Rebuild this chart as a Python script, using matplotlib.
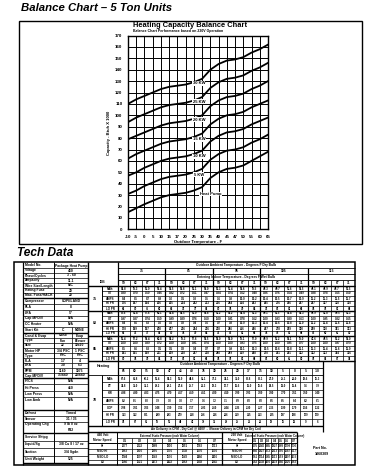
import matplotlib
matplotlib.use("Agg")
import matplotlib.pyplot as plt

plt.rcParams['font.family'] = ['Liberation Sans', 'DejaVu Sans']

# ---- balance chart data ----
outdoor_temps = ["-10", "-5", "0", "5", "10", "15", "17", "20", "25", "30",
                 "35", "40", "45", "47", "50", "55", "60", "65"]
heat_pump = [15, 18.5, 22, 25, 28, 30, 31, 32, 34, 37, 45, 50, 53, 54, 56, 60, 64, 68]
kw_5 = [31, 34, 38, 41, 44, 46, 47, 48, 50, 53, 61, 66, 69, 70, 72, 76, 79, 83]
kw_10 = [47, 50, 54, 57, 60, 62, 63, 64, 66, 69, 77, 82, 85, 86, 88, 92, 95, 98]
kw_15 = [62, 66, 69, 72, 75, 77, 78, 79, 81, 84, 92, 97, 100, 101, 103, 107, 110, 113]
kw_20 = [79, 82, 85, 88, 91, 93, 94, 95, 97, 100, 108, 113, 116, 117, 119, 123, 126, 130]
kw_25 = [94, 98, 101, 104, 107, 109, 110, 111, 113, 116, 124, 129, 132, 133, 135, 139, 142, 146]
kw_30 = [110, 114, 117, 120, 123, 125, 126, 127, 129, 132, 140, 145, 148, 149, 151, 155, 158, 162]
curve_names = ["Heat Pump", "5 KW", "10 KW", "15 KW", "20 KW", "25 KW", "30 KW"]

# ---- tech data ----
spec_rows = [
    ("Model No.", "Package Heat Pump", None),
    ("Voltage", "460", None),
    ("Phase/Cycles", "3 - 60", None),
    ("Ampacity", "11.1", None),
    ("Wire Size/Length", "N/C", None),
    ("Rating Fuse", "20", None),
    ("Max. Fuse/HACR", "20", None),
    ("Compressor", "COPELAND", None),
    ("RLA", "8", None),
    ("LRA", "57", None),
    ("Cap MFD/V", "N/A", None),
    ("CC Heater", "N/A", None),
    ("Start Kit", "C", "NONE"),
    ("Cond & Evap", "Cond", "Evap"),
    ("Type", "Fan", "Blower"),
    ("Size", "22", "10x10"),
    ("Motor HP", "3/4 PSC", "1 PSC"),
    ("Type", "PSC", "PSC"),
    ("FLA", "1.7", "4"),
    ("LRA", "3.0", "6.3"),
    ("RPM", "1140", "1075"),
    ("Cap MFD/V", "15/440", "20/440"),
    ("FTCS", "N/A", None),
    ("Hi Press", "410", None),
    ("Low Press", "N/A", None),
    ("Low Amb", "N/A", None),
    ("", "", None),
    ("Defrost", "Timed", None),
    ("Sensor", "31 / 35", None),
    ("Operating Chg", "9 lb 0 oz", None),
    ("", "R22", None),
    ("Service Shipg", "", None),
    ("Liquid/Sg", "3/8 Cu 8 / 17 oz", None),
    ("Suction", "3/4 Sgdn", None),
    ("Unit Weight", "525", None),
]
spec_sections = [7, 6, 9, 5, 4, 4]

cool_outdoor = ["75", "85", "95", "105", "115"]
cool_wb = ["59", "63", "67", "71"]
cool_idb = ["75", "80", "85"]
cool_row_names = ["MBh", "S/T", "AMPS", "HI PR", "LO PR"]
cool_75 = [
    "54.8 55.3 56.9 59.4 52.5 53.8 56.1 58.0 50.3 51.4 53.6 55.5 48.3 49.7 51.6 53.5 46.1 46.9 48.7 50.5",
    "0.80 0.70 0.59 0.46 0.82 0.72 0.61 0.47 0.84 0.74 0.62 0.48 0.86 0.76 0.64 0.49 0.88 0.78 0.65 0.50",
    "8.4 8.5 8.7 8.9 9.0 9.1 9.3 9.5 9.6 9.8 10.0 10.2 10.4 10.5 10.7 10.9 11.2 11.3 11.5 11.7",
    "176 187 194 206 205 214 222 233 236 244 254 263 265 276 286 297 297 307 318 330",
    "66 70 75 80 68 72 77 82 70 74 79 84 72 76 81 86 74 78 83 88",
]
cool_80 = [
    "55.6 56.4 57.6 60.1 53.4 54.5 56.9 58.8 51.2 52.2 54.4 56.3 49.1 50.5 52.4 54.3 46.9 47.8 49.5 51.3",
    "0.97 0.87 0.74 0.59 0.99 0.89 0.76 0.60 1.00 0.91 0.78 0.62 1.00 0.93 0.80 0.63 1.00 0.95 0.82 0.65",
    "8.4 8.6 8.8 9.0 9.0 9.2 9.4 9.6 9.7 9.8 10.0 10.3 10.4 10.6 10.8 11.0 11.2 11.4 11.6 11.8",
    "178 189 197 208 207 216 224 236 238 246 256 266 267 278 289 300 299 310 321 333",
    "68 72 77 82 70 74 79 84 72 76 81 86 74 78 83 88 76 80 85 90",
]
cool_85 = [
    "56.4 57.2 58.4 60.8 54.2 55.3 57.6 59.5 52.0 53.0 55.1 57.0 49.9 51.2 53.1 55.0 47.6 48.5 50.2 52.0",
    "1.00 1.00 0.89 0.72 1.00 1.00 0.91 0.74 1.00 1.00 0.93 0.75 1.00 1.00 0.95 0.77 1.00 1.00 0.97 0.79",
    "8.5 8.6 8.8 9.1 9.1 9.2 9.4 9.7 9.7 9.9 10.1 10.3 10.5 10.6 10.8 11.1 11.3 11.4 11.6 11.9",
    "181 191 199 211 209 218 227 238 240 249 259 268 270 281 291 302 302 313 324 336",
    "70 74 79 84 72 76 81 86 74 78 83 88 76 80 85 90 78 82 87 92",
]

heat_temps = ["65", "60", "55", "50", "47", "45", "40", "35", "30", "25",
              "20", "17", "15", "10", "5", "0", "-5", "-10"]
heat_row_names = ["MBh", "DT", "KW", "AMPS", "COP", "HI PR", "LO PR"]
heat_70 = [
    "67.6 63.8 60.2 56.4 54.3 52.9 49.6 45.1 37.2 34.1 32.0 30.8 30.1 27.9 25.1 22.0 18.6 15.3",
    "34.8 33.0 31.1 29.2 28.1 27.4 25.7 23.3 19.3 17.7 16.6 16.0 15.6 14.5 13.0 11.4 9.6 7.9",
    "4.98 4.90 4.83 4.75 4.70 4.67 4.59 4.51 4.20 4.10 3.99 3.93 3.89 3.80 3.70 3.61 3.50 3.40",
    "8.2 8.1 8.0 7.9 7.8 7.8 7.7 7.6 7.2 7.1 6.9 6.8 6.8 6.6 6.5 6.4 6.2 6.1",
    "3.98 3.81 3.65 3.48 3.39 3.32 3.17 2.93 2.60 2.44 2.35 2.30 2.27 2.15 1.99 1.79 1.56 1.32",
    "323 312 301 289 283 279 268 256 236 226 219 215 213 205 197 188 179 170",
    "74 67 61 55 51 49 43 38 33 29 25 23 22 19 15 12 9 6",
]

esp_values = ["0.1", "0.2", "0.3", "0.4", "0.5", "0.6", "0.7"]
motor_speeds = ["HI", "MED HI", "MED LO", "LO"]
cfm_460 = [
    [2077, 2022, 1968, 1910, 1851, 1782, 1713],
    [1962, 1910, 1855, 1796, 1738, 1670, 1600],
    [1744, 1697, 1648, 1596, 1542, 1480, 1416],
    [1566, 1521, 1473, 1422, 1369, 1308, 1245],
]
cfm_230 = [
    [2095, 2040, 1985, 1927, 1868, 1799, 1730],
    [1980, 1927, 1872, 1813, 1755, 1687, 1617],
    [1761, 1714, 1665, 1613, 1559, 1497, 1433],
    [1583, 1538, 1490, 1439, 1386, 1325, 1262],
]

W, H = 375, 475
fig = plt.figure(figsize=(W / 100, H / 100), dpi=100)
fig.patch.set_facecolor("white")

# page overlay in pixel coordinates
pg = fig.add_axes([0, 0, 1, 1])
pg.set_xlim(0, W)
pg.set_ylim(H, 0)
pg.axis("off")

def hline(y, x0, x1, lw=0.7):
    pg.plot([x0, x1], [y, y], color="black", lw=lw, solid_capstyle="butt")

def vline(x, y0, y1, lw=0.7):
    pg.plot([x, x], [y0, y1], color="black", lw=lw, solid_capstyle="butt")

def cell(x, y, s, size=2.3, ha="center", weight="bold"):
    pg.text(x, y, s, fontsize=size, ha=ha, va="center", fontweight=weight)

pg.text(21, 8, "Balance Chart \u2013 5 Ton Units", fontsize=8.2, fontweight="bold",
        fontstyle="italic", ha="left", va="center")
pg.text(17, 253, "Tech Data", fontsize=8.6, fontweight="bold",
        fontstyle="italic", ha="left", va="center")

# chart frame
pg.add_patch(plt.Rectangle((19, 21), 343, 223, fill=False, lw=1.0, ec="black"))

# ---- chart ----
ax = fig.add_axes([128 / W, 1 - 229.3 / H, 140 / W, 193.8 / H])
xs = list(range(len(outdoor_temps)))
curves = [heat_pump, kw_5, kw_10, kw_15, kw_20, kw_25, kw_30]
for vals in curves:
    ax.plot(xs, vals, color="black", lw=1.3, zorder=3)
label_pos = [(10.0, 31), (8.6, 48), (8.6, 64), (8.6, 79), (8.6, 96), (8.6, 112), (8.6, 128)]
for name, (lx, ly) in zip(curve_names, label_pos):
    ax.text(lx, ly, name, fontsize=3, fontweight="bold", ha="center", va="center", zorder=4,
            bbox=dict(fc="white", ec="none", pad=0.3))
ax.set_xlim(0, len(outdoor_temps) - 1)
ax.set_ylim(0, 170)
ax.set_xticks(xs)
ax.set_xticklabels(outdoor_temps)
ax.set_yticks(range(0, 171, 10))
ax.tick_params(length=0, labelsize=3.2, pad=4)
for t in ax.get_xticklabels() + ax.get_yticklabels():
    t.set_fontweight("bold")
ax.grid(True, color="black", lw=0.7)
for sp in ax.spines.values():
    sp.set_linewidth(1.0)
ax.set_xlabel("Outdoor Temperature - F", fontsize=3, fontweight="bold", labelpad=1)
ax.set_ylabel("Capacity - Btuh X 1000", fontsize=3, fontweight="bold", labelpad=3)
pg.text(133, 25.5, "Heating Capacity Balance Chart", fontsize=5.4, fontweight="bold",
        ha="left", va="center")
pg.text(133, 30.8, "Balance Chart Performance based on 230V Operation", fontsize=2.5,
        fontweight="bold", ha="left", va="center")

# ---- tech data table ----
top, bot = 262, 465
pg.add_patch(plt.Rectangle((14, top), 341, bot - top, fill=False, lw=1.1, ec="black"))
vline(23, top, bot, lw=0.9)

# spec block
xl, xm, xs2, xr = 23, 54, 72, 88
vline(xr, top, bot, lw=1.0)
vline(xm, top, bot - 2)
sec_bounds = [(263, 298), (298, 333), (333, 378), (378, 410), (410, 433), (433, 463)]
row_i = 0
for (y0, y1), n in zip(sec_bounds, spec_sections):
    h = (y1 - y0) / n
    hline(y1, xl, xr, lw=1.0)
    for k in range(n):
        label, v1, v2 = spec_rows[row_i]
        ya, yb = y0 + k * h, y0 + (k + 1) * h
        if k > 0 and label:
            hline(ya, xl, xr, lw=0.5)
        yc = (ya + yb) / 2
        cell(xl + 2, yc, label, size=2.4, ha="left")
        if v2 is None:
            cell((xm + xr) / 2, yc, v1, size=2.4)
        else:
            vline(xs2, ya, yb, lw=0.5)
            cell((xm + xs2) / 2, yc, v1, size=2.4)
            cell((xs2 + xr) / 2, yc, v2, size=2.4)
        row_i += 1

# cooling block
c0, c1, d0, d1 = 88, 102, 118, 355
ncol = len(cool_outdoor) * len(cool_wb)
cw = (d1 - d0) / ncol
hdr = [262, 268, 274, 280, 286]
for y in hdr[1:]:
    hline(y, d0, d1, lw=0.6)
vline(d0, top, 361, lw=0.9)
cell((d0 + d1) / 2, 265, "Outdoor Ambient Temperature - Degrees F Dry Bulb", size=2.3)
cell((d0 + d1) / 2, 277, "Entering Indoor Temperature - Degrees F Wet Bulb", size=2.3)
for i, t in enumerate(cool_outdoor):
    xa = d0 + i * 4 * cw
    if i > 0:
        vline(xa, 268, 361, lw=0.9)
    cell(xa + 2 * cw, 271, t, size=2.4)
    for j, wb in enumerate(cool_wb):
        cell(xa + (j + 0.5) * cw, 283, wb, size=2.3)
for j in range(ncol):
    if j % 4:
        vline(d0 + j * cw, 280, 361, lw=0.5)
cell((c0 + d0) / 2, 282, "IDB", size=2.3)
vline(c1, 286, 361, lw=0.7)
groups = [cool_75, cool_80, cool_85]
g_top = 286
rh = 5
for gi, (idb, grp) in enumerate(zip(cool_idb, groups)):
    y0 = g_top + gi * 25
    hline(y0, c0, d1, lw=1.0)
    cell((c0 + c1) / 2, y0 + 12.5, idb, size=2.6)
    for r, (nm, line) in enumerate(zip(cool_row_names, grp)):
        ya = y0 + r * rh
        if r:
            hline(ya, c1, d1, lw=0.5)
        cell((c1 + d0) / 2, ya + rh / 2, nm, size=2.1)
        for j, v in enumerate(line.split()):
            cell(d0 + (j + 0.5) * cw, ya + rh / 2, v, size=2.1)
hline(361, c0, d1, lw=1.0)

# heating block
hd1 = 323
hcw = (hd1 - d0) / len(heat_temps)
vline(hd1, 361, 432, lw=0.9)
vline(d0, 361, 426, lw=0.9)
hline(368, d0, hd1, lw=0.6)
hline(375, c0, hd1, lw=0.6)
cell((c0 + d0) / 2, 366, "Heating", size=2.6)
cell((d0 + hd1) / 2, 364.5, "Outdoor Ambient Temperature - Degrees F Dry Bulb", size=2.3)
for j, t in enumerate(heat_temps):
    if j:
        vline(d0 + j * hcw, 368, 426, lw=0.5)
    cell(d0 + (j + 0.5) * hcw, 371.5, t, size=2.3)
vline(c1, 375, 426, lw=0.7)
cell((c0 + c1) / 2, 400, "70", size=2.6)
hrh = (426 - 375) / len(heat_row_names)
for r, (nm, line) in enumerate(zip(heat_row_names, heat_70)):
    ya = 375 + r * hrh
    if r:
        hline(ya, c1, hd1, lw=0.5)
    cell((c1 + d0) / 2, ya + hrh / 2, nm, size=2.1)
    for j, v in enumerate(line.split()):
        cell(d0 + (j + 0.5) * hcw, ya + hrh / 2, v, size=2.0)
hline(426, c0, hd1, lw=1.0)
cell((c0 + hd1) / 2, 429, "Air Delivery in CFM - Dry Coil @ 460V  -  Blower Delivery in CFM for Dry Coil",
     size=2.2)
hline(432, c0, 297, lw=1.0)

# air delivery tables
def air_table(xa, xb, xe, volt, data):
    vline(xb, 432, bot, lw=0.7)
    vline(xe, 432, bot, lw=0.9)
    cell((xa + xb) / 2, 435.5, volt, size=2.2)
    cell((xa + xb) / 2, 440.5, "Motor Speed", size=2.2)
    cell((xb + xe) / 2, 435.5, "External Static Pressure (inch Water Column)", size=2.0)
    hline(438, xb, xe, lw=0.5)
    hline(443, xa, xe, lw=0.7)
    ccw = (xe - xb) / len(esp_values)
    for j, e in enumerate(esp_values):
        if j:
            vline(xb + j * ccw, 438, bot, lw=0.5)
        cell(xb + (j + 0.5) * ccw, 440.5, e, size=2.1)
    rrh = (bot - 443) / len(motor_speeds)
    for r, sp in enumerate(motor_speeds):
        ya = 443 + r * rrh
        if r:
            hline(ya, xa, xe, lw=0.5)
        cell((xa + xb) / 2, ya + rrh / 2, sp, size=2.1)
        for j, v in enumerate(data[r]):
            cell(xb + (j + 0.5) * ccw, ya + rrh / 2, str(v), size=1.9)

air_table(c0, 117, 222, "460 Volt", cfm_460)
air_table(222, 252, 297, "230 Volt", cfm_230)

pg.text(320, 448, "Part No.", fontsize=2.6, fontweight="bold", ha="center", va="center")
pg.text(322, 454, "1068309", fontsize=2.6, fontweight="bold", ha="center", va="center")

fig.savefig("out.png", dpi=100, facecolor="white")
